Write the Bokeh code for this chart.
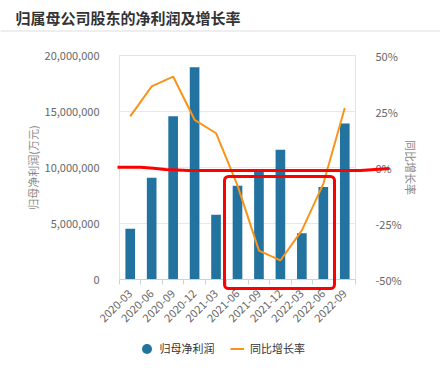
import math
from bokeh.plotting import figure
from bokeh.models import (Range1d, LinearAxis, FixedTicker, BoxAnnotation, PolyAnnotation,
                          Label, Legend, LegendItem, ColumnDataSource, NumeralTickFormatter,
                          PrintfTickFormatter, Span)
from bokeh.embed import file_html
from bokeh.resources import INLINE

# ---- data ----
periods = ["2020-03", "2020-06", "2020-09", "2020-12", "2021-03", "2021-06",
           "2021-09", "2021-12", "2022-03", "2022-06", "2022-09"]
net_profit = [4530000, 9080000, 14580000, 18960000, 5780000, 8360000,
              9640000, 11580000, 4140000, 8270000, 13930000]
yoy_growth = [22.8, 36.2, 40.6, 21.3, 15.3, -8.0, -37.1, -41.5, -28.1, -7.3, 26.6]
left_ticks = [0, 5000000, 10000000, 15000000, 20000000]
right_ticks = [-50, -25, 0, 25, 50]

FONT = "Noto Sans CJK SC"
BAR = "#22739f"
ORANGE = "#f7941d"
RED = "#ff0000"

# ---- layout (pixels) ----
W, H = 440, 371
PL, PR, PT, PB = 119, 355, 55, 279       # plot area edges
n = len(periods)
Y_MAX = 20000000
ux = (PR - PL) / n
uy = (PB - PT) / Y_MAX
up = (PB - PT) / 100.0

def px_x(px):
    return -0.5 + (px - PL) / ux

def py_y(py):
    return (PB - py) / uy

idx = list(range(n))
src = ColumnDataSource(dict(x=idx, profit=net_profit, growth=yoy_growth))
grid_src = ColumnDataSource(dict(y=left_ticks))

p = figure(width=W, height=H,
           x_range=Range1d(px_x(0), px_x(W)), y_range=Range1d(py_y(H), py_y(0)),
           output_backend="svg", toolbar_location=None,
           min_border_left=0, min_border_right=0, min_border_top=0, min_border_bottom=0)
p.title.visible = False
p.extra_y_ranges = {"pct": Range1d(-50 - (H - PB) / up, -50 + PB / up)}
p.outline_line_color = None
p.background_fill_color = "white"
p.border_fill_color = "white"
p.xgrid.visible = False
p.ygrid.visible = False

# frame outline + horizontal grid
p.add_layout(BoxAnnotation(left=-0.5, right=n - 0.5, bottom=0, top=Y_MAX, fill_color=None,
                           line_color="#dde4ee", line_alpha=1, line_width=1, level="underlay"))
p.segment(x0=-0.5, x1=n - 0.5, y0="y", y1="y", source=grid_src, line_color="#e8e8e8",
          line_width=1, level="underlay")

# bottom axis
xa = p.xaxis[0]
xa.fixed_location = 0
xa.bounds = (-0.5, n - 0.5)
xa.ticker = FixedTicker(ticks=idx, minor_ticks=[i - 0.5 for i in range(n + 1)])
xa.major_label_overrides = {i: s for i, s in enumerate(periods)}
xa.major_label_orientation = math.pi / 4
xa.major_tick_line_color = None
xa.minor_tick_line_color = "#c8d3e0"
xa.minor_tick_in = 0
xa.minor_tick_out = 5
xa.axis_line_color = "#c8d3e0"
xa.major_label_text_font = FONT
xa.major_label_text_font_size = "11px"
xa.major_label_text_color = "#666666"
xa.major_label_standoff = 6

# left axis
ya = p.yaxis[0]
ya.fixed_location = -0.5
ya.bounds = (0, Y_MAX)
ya.ticker = FixedTicker(ticks=left_ticks)
ya.formatter = NumeralTickFormatter(format="0,0")
ya.axis_label = "归母净利润(万元)"
ya.axis_label_text_font = FONT
ya.axis_label_text_font_size = "11px"
ya.axis_label_text_font_style = "normal"
ya.axis_label_text_color = "#888888"
ya.axis_label_standoff = 1
ya.major_label_text_font = FONT
ya.major_label_text_font_size = "11px"
ya.major_label_text_color = "#666666"
ya.major_label_standoff = 14
ya.axis_line_color = None
ya.major_tick_line_color = None
ya.minor_tick_line_color = None

# right axis
ra = LinearAxis(y_range_name="pct", ticker=FixedTicker(ticks=right_ticks),
                formatter=PrintfTickFormatter(format="%d%%"), axis_label="同比增长率")
ra.fixed_location = n - 0.5
ra.bounds = (-50, 50)
ra.axis_label_text_font = FONT
ra.axis_label_text_font_size = "11px"
ra.axis_label_text_font_style = "normal"
ra.axis_label_text_color = "#888888"
ra.axis_label_standoff = -2
ra.major_label_text_font = FONT
ra.major_label_text_font_size = "11px"
ra.major_label_text_color = "#666666"
ra.major_label_standoff = 14
ra.axis_line_color = None
ra.major_tick_line_color = None
ra.minor_tick_line_color = None
p.add_layout(ra, "right")

# marks
p.vbar(x="x", top="profit", width=0.45, source=src, fill_color=BAR, line_color=None)
ln = p.line(x="x", y="growth", source=src, line_color=ORANGE, line_width=2, y_range_name="pct")
dot = p.scatter(x="x", y="profit", source=src, marker="circle", size=0,
                fill_color=BAR, line_color=None)

# hand-drawn red annotations
p.add_layout(BoxAnnotation(left=px_x(224), right=px_x(334), bottom=py_y(288), top=py_y(176),
                           fill_color=None, line_color=RED, line_alpha=1, line_width=3,
                           border_radius=4))
red_px = [(117, 166.7), (140, 166.7), (153, 167.7), (165, 169), (188, 170), (360, 170), (389, 168)]
lx = [px_x(a) for a, b in red_px]
ly = [py_y(b) for a, b in red_px]
p.add_layout(PolyAnnotation(xs=lx + lx[::-1], ys=ly + ly[::-1], fill_color=None,
                            line_color=RED, line_alpha=1, line_width=3))

# title and separator
p.add_layout(Label(x=px_x(15), y=py_y(16.5), text="归属母公司股东的净利润及增长率",
                   text_font=FONT, text_font_size="15px", text_font_style="bold",
                   text_color="#333333", text_baseline="middle"))
p.add_layout(Span(location=py_y(30.5), dimension="width", line_color="#dddddd", line_width=1))

# legends
lg1 = Legend(items=[LegendItem(label="归母净利润", renderers=[dot])], location=(133.5, H - 360.5),
             orientation="horizontal", glyph_width=25, glyph_height=25, label_height=25,
             label_standoff=1, padding=0, margin=0, border_line_color=None,
             background_fill_alpha=0, label_text_font=FONT, label_text_font_size="11px",
             label_text_color="#333333")
lg2 = Legend(items=[LegendItem(label="同比增长率", renderers=[ln])], location=(230, H - 360.5),
             orientation="horizontal", glyph_width=14, glyph_height=25, label_height=25,
             label_standoff=6, padding=0, margin=0, border_line_color=None,
             background_fill_alpha=0, label_text_font=FONT, label_text_font_size="11px",
             label_text_color="#333333")
p.add_layout(lg1, "center")
p.add_layout(lg2, "center")

open("out.html", "w").write(file_html(p, INLINE))
